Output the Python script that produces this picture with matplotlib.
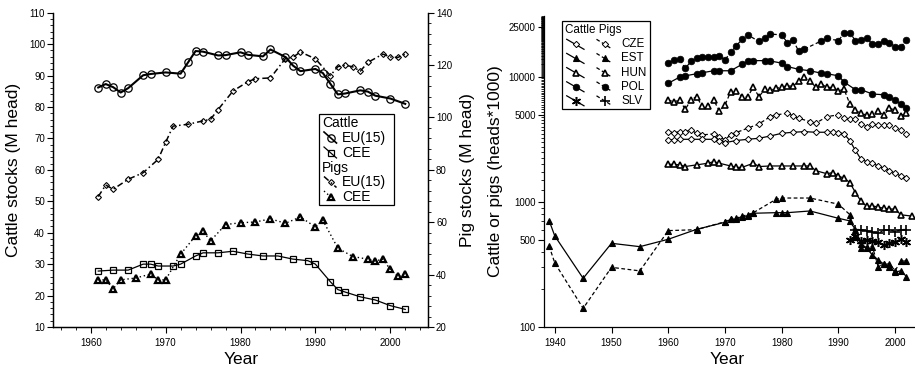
import numpy as np
import matplotlib
matplotlib.use('Agg')
import matplotlib.pyplot as plt
from matplotlib.lines import Line2D
from matplotlib.patches import Rectangle
from matplotlib.ticker import MultipleLocator, FixedLocator, NullFormatter

plt.rcParams['font.family'] = ['Liberation Sans', 'DejaVu Sans']

# ---------------- Left panel data (M head) ----------------
cattle_eu_years = [1961, 1962, 1963, 1964, 1965, 1967, 1968, 1970, 1972, 1973, 1974, 1975, 1977, 1978,
                   1980, 1981, 1983, 1984, 1986, 1987, 1988, 1990, 1991, 1992, 1993, 1994, 1996, 1997,
                   1998, 2000, 2002]
cattle_eu = [86.2, 87.3, 86.3, 84.6, 86.0, 90.1, 90.5, 91.0, 90.6, 94.2, 97.8, 97.6, 96.4, 96.5,
             97.4, 96.6, 96.1, 98.3, 95.9, 93.2, 91.4, 92.1, 90.8, 87.4, 84.0, 84.3, 85.3, 84.9,
             83.6, 82.7, 81.0]

cattle_cee_years = [1961, 1963, 1965, 1967, 1968, 1969, 1971, 1972, 1974, 1975, 1977, 1979, 1981, 1983,
                    1985, 1987, 1989, 1990, 1992, 1993, 1994, 1996, 1998, 2000, 2002]
cattle_cee = [27.8, 28.1, 28.1, 30.0, 30.0, 29.4, 29.4, 30.0, 32.6, 33.6, 33.6, 34.1, 33.2, 32.6,
              32.6, 31.6, 31.1, 30.0, 24.4, 21.9, 21.1, 19.6, 18.6, 16.8, 15.6]

pig_eu_years = [1961, 1962, 1963, 1965, 1967, 1969, 1970, 1971, 1973, 1975, 1976, 1977, 1979, 1981,
                1982, 1984, 1986, 1987, 1988, 1990, 1992, 1993, 1994, 1995, 1996, 1997, 1999, 2000,
                2001, 2002]
pig_eu = [69.8, 74.2, 72.6, 76.4, 78.9, 84.0, 90.5, 96.7, 97.4, 98.7, 99.3, 103.0, 110.1, 113.7,
          114.8, 115.1, 122.5, 123.0, 125.0, 122.4, 116.0, 119.4, 120.0, 119.3, 117.7, 121.0, 124.2, 123.1,
          122.9, 124.2]

pig_cee_years = [1961, 1962, 1963, 1964, 1966, 1968, 1969, 1970, 1972, 1974, 1975, 1976, 1978, 1980,
                 1982, 1984, 1986, 1988, 1990, 1991, 1993, 1995, 1997, 1998, 1999, 2000, 2001, 2002]
pig_cee = [38.0, 38.0, 34.6, 38.0, 38.7, 40.2, 38.0, 38.0, 47.8, 54.8, 56.5, 52.9, 59.1, 59.8,
           60.1, 61.3, 59.6, 62.0, 58.2, 60.7, 50.1, 46.9, 45.9, 45.2, 45.9, 42.0, 39.3, 40.2]

# ---------------- Right panel data (heads*1000) ----------------
cze_cattle_years = [1960, 1961, 1962, 1964, 1966, 1968, 1969, 1970, 1972, 1974, 1976, 1978, 1980, 1982,
                    1984, 1986, 1988, 1989, 1990, 1991, 1992, 1993, 1994, 1995, 1996, 1997, 1998, 1999,
                    2000, 2001, 2002]
cze_cattle = [3130, 3150, 3170, 3170, 3170, 3170, 3100, 2980, 3100, 3170, 3230, 3370, 3540, 3610,
              3650, 3610, 3610, 3610, 3590, 3500, 3100, 2580, 2190, 2100, 2040, 1940, 1860, 1780,
              1700, 1610, 1550]
cze_pigs_years = [1960, 1961, 1962, 1963, 1964, 1965, 1966, 1968, 1969, 1970, 1971, 1972, 1974, 1976,
                  1978, 1979, 1981, 1982, 1983, 1985, 1986, 1988, 1990, 1991, 1992, 1993, 1994, 1995,
                  1996, 1997, 1998, 1999, 2000, 2001, 2002]
cze_pigs = [3650, 3580, 3650, 3650, 3770, 3540, 3440, 3500, 3300, 3150, 3440, 3590, 3890, 4210,
            4820, 4970, 5120, 4880, 4670, 4390, 4260, 4820, 4970, 4670, 4590, 4590, 4210, 4010,
            4210, 4130, 4130, 4130, 3890, 3770, 3500]

est_cattle_years = [1939, 1940, 1945, 1950, 1955, 1960, 1965, 1970, 1971, 1972, 1973, 1974, 1975, 1979,
                    1980, 1981, 1985, 1990, 1992, 1993, 1994, 1995, 1996, 1997, 1998, 1999, 2000,
                    2001, 2002]
est_cattle = [710, 535, 245, 467, 439, 503, 604, 688, 727, 727, 763, 773, 812, 821,
              821, 821, 847, 740, 706, 600, 465, 425, 376, 343, 319, 304, 274, 282, 253]
est_pigs_years = [1939, 1940, 1945, 1950, 1955, 1960, 1965, 1970, 1971, 1972, 1973, 1974, 1975, 1979,
                  1980, 1985, 1990, 1992, 1993, 1994, 1995, 1996, 1997, 1998, 1999, 2000, 2001, 2002]
est_pigs = [445, 325, 141, 300, 281, 590, 600, 695, 735, 740, 770, 790, 820, 1050,
            1075, 1075, 960, 793, 527, 425, 438, 438, 304, 319, 319, 282, 337, 337]

hun_cattle_years = [1960, 1961, 1962, 1963, 1965, 1967, 1968, 1969, 1971, 1972, 1973, 1975, 1976, 1978,
                    1980, 1982, 1984, 1985, 1986, 1988, 1989, 1990, 1991, 1992, 1993, 1994, 1995,
                    1996, 1997, 1998, 1999, 2000, 2001, 2003]
hun_cattle = [2000, 2000, 1980, 1920, 1980, 2040, 2100, 2040, 1940, 1890, 1890, 2040, 1920, 1940,
              1940, 1940, 1940, 1940, 1780, 1680, 1720, 1610, 1550, 1430, 1190, 1010, 920,
              930, 910, 890, 880, 875, 790, 770]
hun_pigs_years = list(range(1960, 2003))
hun_pigs = [6550, 6300, 6550, 5500, 6550, 6950, 5800, 5850, 6550, 5350, 5950, 7600, 7750, 6950,
            6950, 8250, 6950, 7950, 7850, 8100, 8350, 8450, 8450, 9200, 9950, 9350, 8250, 8750,
            8250, 8250, 7750, 7950, 6100, 5450, 5100, 4950, 5050, 5300, 4950, 5600, 5450, 4900, 5150]

pol_cattle_years = [1960, 1962, 1963, 1965, 1966, 1968, 1969, 1971, 1973, 1974, 1975, 1977, 1978, 1980,
                    1981, 1983, 1985, 1987, 1988, 1990, 1991, 1993, 1994, 1996, 1998, 1999, 2000,
                    2001, 2002]
pol_cattle = [8900, 9950, 10200, 10600, 10800, 11200, 11200, 11200, 12600, 13300, 13500, 13500, 13400, 12900,
              12100, 11500, 11200, 10700, 10600, 10200, 9100, 7900, 7900, 7300, 7200, 6900, 6550,
              6050, 5600]
pol_pigs_years = [1960, 1961, 1962, 1963, 1964, 1965, 1966, 1967, 1968, 1969, 1970, 1971, 1972, 1973,
                  1974, 1976, 1977, 1978, 1980, 1981, 1982, 1983, 1984, 1987, 1988, 1990, 1991, 1992,
                  1993, 1994, 1995, 1996, 1997, 1998, 1999, 2000, 2001, 2002]
pol_pigs = [13000, 13700, 13800, 11700, 13300, 14100, 14500, 14400, 14400, 14700, 13700, 15700, 17700, 20000,
            21700, 19200, 20400, 22000, 21700, 18800, 19800, 16000, 16700, 19400, 20300, 19500, 22400, 22600,
            19500, 19800, 20400, 18300, 18400, 19500, 18800, 17500, 17300, 19700]

slv_cattle_years = [1992, 1993, 1994, 1995, 1996, 1997, 1998, 1999, 2000, 2001, 2002]
slv_cattle = [500, 535, 486, 495, 486, 481, 452, 470, 481, 505, 481]
slv_pigs_years = [1993, 1994, 1995, 1996, 1997, 1998, 1999, 2000, 2001, 2002]
slv_pigs = [602, 602, 588, 577, 560, 595, 602, 577, 602, 602]

countries = ['CZE', 'EST', 'HUN', 'POL', 'SLV']
left_xticks = [1960, 1970, 1980, 1990, 2000]
right_xticks = [1940, 1950, 1960, 1970, 1980, 1990, 2000]
right_yticks = [100, 500, 1000, 5000, 10000, 25000]
right_yticklabels = ['100', '500', '1000', '5000', '10000', '25000']

# ---------------- Figure ----------------
W, H = 915, 370
fig = plt.figure(figsize=(W / 100, H / 100), dpi=100)


def fx(px):
    return px / W


def fy(py):
    return 1 - py / H


TICK_FS = 7
LAB_FS = 12.5

# ---- left panel ----
ax1 = fig.add_axes([fx(53.3), fy(327), fx(427.7) - fx(53.3), fy(12.7) - fy(327)])
ax2 = ax1.twinx()

st_ceu = dict(color='k', lw=1.5, marker='o', ms=5.3, mfc='none', mec='k', mew=0.9)
st_ccee = dict(color='k', lw=0.9, marker='s', ms=4.8, mfc='none', mec='k', mew=0.9)
st_peu = dict(color='k', lw=1.1, ls=(0, (4, 2, 1, 2)), marker='D', ms=3.0, mfc='none', mec='k', mew=0.8)
st_pcee = dict(color='k', lw=1.0, ls=(0, (1, 2)), marker='^', ms=4.4, mfc='none', mec='k', mew=1.6)

ax1.plot(cattle_eu_years, cattle_eu, **st_ceu)
ax1.plot(cattle_cee_years, cattle_cee, **st_ccee)
ax2.plot(pig_eu_years, pig_eu, **st_peu)
ax2.plot(pig_cee_years, pig_cee, **st_pcee)

ax1.set_xlim(1955, 2005)
ax1.set_ylim(10, 110)
ax2.set_ylim(20, 140)
ax1.set_xticks(left_xticks)
ax1.xaxis.set_minor_locator(MultipleLocator(2))
ax1.yaxis.set_major_locator(MultipleLocator(10))
ax1.yaxis.set_minor_locator(MultipleLocator(2))
ax2.yaxis.set_major_locator(MultipleLocator(20))
ax2.yaxis.set_minor_locator(MultipleLocator(4))
for a in (ax1, ax2):
    a.spines['top'].set_visible(False)
    for s in a.spines.values():
        s.set_linewidth(0.9)
    a.tick_params(which='major', direction='out', length=4, width=0.8, labelsize=TICK_FS, pad=2)
    a.tick_params(which='minor', direction='out', length=2, width=0.6)
ax1.tick_params(axis='x', pad=4)

ax1.set_ylabel('Cattle stocks (M head)', fontsize=LAB_FS, va='center')
ax1.yaxis.set_label_coords(fx(14), fy(170), transform=fig.transFigure)
ax2.set_ylabel('Pig stocks (M head)', fontsize=LAB_FS, va='center')
ax2.yaxis.set_label_coords(fx(468), fy(170), transform=fig.transFigure)
ax1.set_xlabel('Year', fontsize=LAB_FS, va='center')
ax1.xaxis.set_label_coords(fx(241), fy(360), transform=fig.transFigure)

# ---- right panel ----
ax3 = fig.add_axes([fx(544), fy(327), 1 - fx(544), fy(16) - fy(327)])
ax3.set_yscale('log')

cattle_ls = dict(color='k', lw=0.9, ls='-')
pigs_ls = dict(color='k', lw=0.9, ls=(0, (3, 2)))
mk = {
    'CZE': dict(marker='D', ms=3.2, mfc='white', mec='k', mew=0.7),
    'EST': dict(marker='^', ms=4.3, mfc='k', mec='k', mew=0.8),
    'HUN': dict(marker='^', ms=4.3, mfc='white', mec='k', mew=1.2),
    'POL': dict(marker='o', ms=4.8, mfc='k', mec='k', mew=0.5),
}
mk_slv_c = dict(marker=(6, 2, 0), ms=6.5, mfc='k', mec='k', mew=1.1)
mk_slv_p = dict(marker='+', ms=6.5, mfc='k', mec='k', mew=1.2)

series = {
    'CZE': (cze_cattle_years, cze_cattle, cze_pigs_years, cze_pigs),
    'EST': (est_cattle_years, est_cattle, est_pigs_years, est_pigs),
    'HUN': (hun_cattle_years, hun_cattle, hun_pigs_years, hun_pigs),
    'POL': (pol_cattle_years, pol_cattle, pol_pigs_years, pol_pigs),
}
for c in ['CZE', 'EST', 'HUN', 'POL']:
    cy, cv, py, pv = series[c]
    ax3.plot(py, pv, **pigs_ls, **mk[c])
    ax3.plot(cy, cv, **cattle_ls, **mk[c])
ax3.plot(slv_pigs_years, slv_pigs, **pigs_ls, **mk_slv_p)
ax3.plot(slv_cattle_years, slv_cattle, **cattle_ls, **mk_slv_c)

ax3.set_xlim(1938.1, 2003.5)
ax3.set_ylim(100, 30700)
ax3.set_xticks(right_xticks)
ax3.yaxis.set_major_locator(FixedLocator(right_yticks))
ax3.set_yticklabels(right_yticklabels)
minor_vals = [v for v in list(range(200, 1000, 100)) + list(range(1250, 10000, 250))
              + list(range(10200, 30700, 200)) if v not in right_yticks]
ax3.yaxis.set_minor_locator(FixedLocator(minor_vals))
ax3.yaxis.set_minor_formatter(NullFormatter())
ax3.spines['top'].set_visible(False)
ax3.spines['right'].set_visible(False)
for s in ax3.spines.values():
    s.set_linewidth(0.9)
ax3.tick_params(which='major', direction='out', length=4, width=0.8, labelsize=TICK_FS, pad=2)
ax3.tick_params(which='minor', direction='out', length=2.5, width=0.6)
ax3.tick_params(axis='x', pad=4)
ax3.set_ylabel('Cattle or pigs (heads*1000)', fontsize=LAB_FS, va='center')
ax3.yaxis.set_label_coords(fx(495), fy(171), transform=fig.transFigure)
ax3.set_xlabel('Year', fontsize=LAB_FS, va='center')
ax3.xaxis.set_label_coords(fx(727), fy(360), transform=fig.transFigure)


# ---------------- Legends (drawn manually) ----------------
def add_box(x0, y0, x1, y1):
    r = Rectangle((fx(x0), fy(y1)), fx(x1) - fx(x0), fy(y0) - fy(y1), transform=fig.transFigure,
                  facecolor='white', edgecolor='k', lw=0.9, zorder=5)
    fig.add_artist(r)


def add_sym(xc, yc, dxa, dya, dxb, dyb, line_st, mark_st):
    ln = Line2D([fx(xc + dxa), fx(xc + dxb)], [fy(yc + dya), fy(yc + dyb)], transform=fig.transFigure,
                zorder=6, **line_st)
    fig.add_artist(ln)
    m = Line2D([fx(xc)], [fy(yc)], transform=fig.transFigure, ls='none', zorder=7, **mark_st)
    fig.add_artist(m)


def split(st):
    line = {k: v for k, v in st.items() if k in ('color', 'lw', 'ls')}
    mark = {k: v for k, v in st.items() if k in ('marker', 'ms', 'mfc', 'mec', 'mew')}
    return line, mark


# left legend
add_box(319, 114, 394, 205)
fig.text(fx(322), fy(123), 'Cattle', fontsize=10, va='center', ha='left', zorder=8)
fig.text(fx(322), fy(168), 'Pigs', fontsize=10, va='center', ha='left', zorder=8)
rows_left = [(138, st_ceu, 'EU(15)'), (153, st_ccee, 'CEE'), (182.5, st_peu, 'EU(15)'), (197, st_pcee, 'CEE')]
for yy, st, lab in rows_left:
    l, m = split(st)
    l = dict(l)
    l['lw'] = min(l['lw'], 1.2)
    add_sym(330.5, yy, -6.5, -6, 6, 5, l, m)
    fig.text(fx(342), fy(yy), lab, fontsize=10, va='center', ha='left', zorder=8)

# right legend
add_box(561.7, 21, 650, 109)
fig.text(fx(565), fy(30), 'Cattle Pigs', fontsize=8.4, va='center', ha='left', zorder=8)
rows_right = [44.3, 58.4, 72.6, 86.8, 100.8]
for yy, c in zip(rows_right, countries):
    if c == 'SLV':
        mc, mp = mk_slv_c, mk_slv_p
    else:
        mc = mp = mk[c]
    add_sym(576, yy, -9.3, -5, 8, 5, cattle_ls, mc)
    add_sym(604.5, yy, -8, -5, 6.5, 4, pigs_ls, mp)
    fig.text(fx(621), fy(yy), c, fontsize=8.4, va='center', ha='left', zorder=8)

fig.savefig('out.png', dpi=100)
